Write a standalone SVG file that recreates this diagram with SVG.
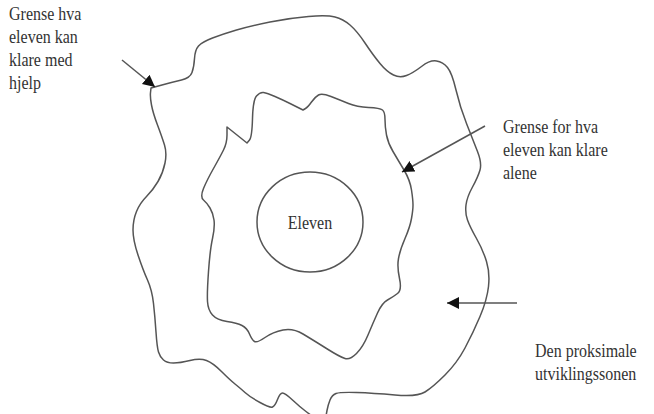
<svg xmlns="http://www.w3.org/2000/svg" width="654" height="414" viewBox="0 0 654 414">
<style>
.edge{fill:none;stroke:#555;stroke-width:1.5;stroke-linejoin:round;stroke-linecap:round}
.lbl{font-family:"Liberation Serif","Times New Roman",serif;font-size:16px;fill:#333}
.arr{fill:none;stroke:#555;stroke-width:1.5}
</style>
<defs>
<marker id="ah" markerUnits="userSpaceOnUse" markerWidth="14" markerHeight="14" refX="12" refY="6" orient="auto">
<path d="M0,0 L12,6 L0,12 Z" fill="#111"/>
</marker>
</defs>
<rect width="654" height="414" fill="#fff"/>
<g id="outer-boundary">
<path class="edge" d="M312,416 L306,411.5 Q300,407 292.5,400 Q285,393 282.5,393 Q280,393 277.5,399.5 Q275,406 272.5,407 Q270,408 260,402.5 Q250,397 245,392.5 Q240,388 235,384 Q230,380 221.5,371.5 Q213,363 206.5,360.5 Q200,358 190,360.5 Q180,363 173.5,363 Q167,363 163.5,360 Q160,357 158.5,352 Q157,347 156,332 Q155,317 153.5,303.5 Q152,290 147.5,280 Q143,270 138,255 Q133,240 133,230 Q133,220 136.5,211.5 Q140,203 146.5,196.5 Q153,190 158,181.5 Q163,173 165,163 Q167,153 164.5,145 Q162,137 157.5,125 Q153,113 151.5,105 Q150,97 150.5,92.5 L151,88 L162,85 Q173,82 181.5,80 Q190,78 192,72.5 Q194,67 194.5,58.5 Q195,50 198.5,46 Q202,42 212.5,38 Q223,34 236.5,30 Q250,26 270,22 Q290,18 308.5,16.5 Q327,15 335,17 Q343,19 350,25 Q357,31 365,43 Q373,55 380,63.5 Q387,72 393.5,75 Q400,78 406.5,75.5 Q413,73 421.5,66.5 Q430,60 436.5,61 Q443,62 447.5,67.5 Q452,73 456,90 Q460,107 466.5,123.5 Q473,140 477.5,151.5 Q482,163 480,170 Q478,177 472.5,187 Q467,197 466,205 Q465,213 467.5,220 Q470,227 476.5,238.5 Q483,250 486.5,261.5 Q490,273 488.5,286.5 Q487,300 480,316.5 Q473,333 465,348 Q457,363 445,375 Q433,387 425,392 Q417,397 395,395 Q373,393 356.5,392.5 Q340,392 336,393.5 Q332,395 330,400 Q328,405 327,410.5 L326,416"/>
</g>
<g id="inner-boundary">
<path class="edge" d="M227,127 L247,143 L249.5,140 Q252,137 252.5,118.5 Q253,100 256.5,96 Q260,92 263.5,92.5 Q267,93 275,96.5 Q283,100 290,103.5 Q297,107 300,108.5 L303,110 L305.5,108.5 Q308,107 311.5,102 Q315,97 318.5,95 Q322,93 331,96.5 Q340,100 348.5,103.5 Q357,107 368.5,107.5 Q380,108 382.5,110 Q385,112 385,119.5 Q385,127 386.5,135 Q388,143 393,151.5 Q398,160 404,170 Q410,180 411.5,190 Q413,200 413,205 Q413,210 411.5,218.5 Q410,227 405,238.5 Q400,250 398.5,258.5 Q397,267 399.5,278.5 Q402,290 397.5,293.5 Q393,297 387.5,300 Q382,303 377.5,313 Q373,323 368,335 Q363,347 356.5,353.5 Q350,360 345,358.5 Q340,357 326.5,348.5 Q313,340 303,334 Q293,328 283,330 Q273,332 265,337.5 Q257,343 254.5,341.5 Q252,340 249.5,334 Q247,328 242,325.5 Q237,323 227,321.5 Q217,320 212.5,315 Q208,310 207.5,301.5 Q207,293 208.5,271.5 Q210,250 212.5,238.5 Q215,227 214,220 Q213,213 210,208 Q207,203 203.5,200 Q200,197 203.5,188.5 Q207,180 213.5,168.5 Q220,157 223.5,150 Q227,143 227,135 Z"/>
</g>
<g id="eleven">
<ellipse class="edge" cx="310" cy="222" rx="53" ry="50"/>
<text class="lbl" transform="matrix(1,0,0,1.15,310,229)" text-anchor="middle">Eleven</text>
</g>
<g id="label-med-hjelp">
<text class="lbl" transform="matrix(1,0,0,1.15,9,20)">Grense hva</text>
<text class="lbl" transform="matrix(1,0,0,1.15,9,43)">eleven kan</text>
<text class="lbl" transform="matrix(1,0,0,1.15,9,66)">klare med</text>
<text class="lbl" transform="matrix(1,0,0,1.15,9,89)">hjelp</text>
</g>
<g id="label-alene">
<text class="lbl" transform="matrix(1,0,0,1.15,503,133)">Grense for hva</text>
<text class="lbl" transform="matrix(1,0,0,1.15,503,156)">eleven kan klare</text>
<text class="lbl" transform="matrix(1,0,0,1.15,503,179)">alene</text>
</g>
<g id="label-sone">
<text class="lbl" transform="matrix(1,0,0,1.15,535,357)">Den proksimale</text>
<text class="lbl" transform="matrix(1,0,0,1.15,535,380)">utviklingssonen</text>
</g>
<g id="connectors">
<line class="arr" x1="122" y1="60" x2="155" y2="87" marker-end="url(#ah)"/>
<line class="arr" x1="485" y1="126" x2="402" y2="172" marker-end="url(#ah)"/>
<line class="arr" x1="517" y1="303" x2="447" y2="303" marker-end="url(#ah)"/>
</g>
</svg>
